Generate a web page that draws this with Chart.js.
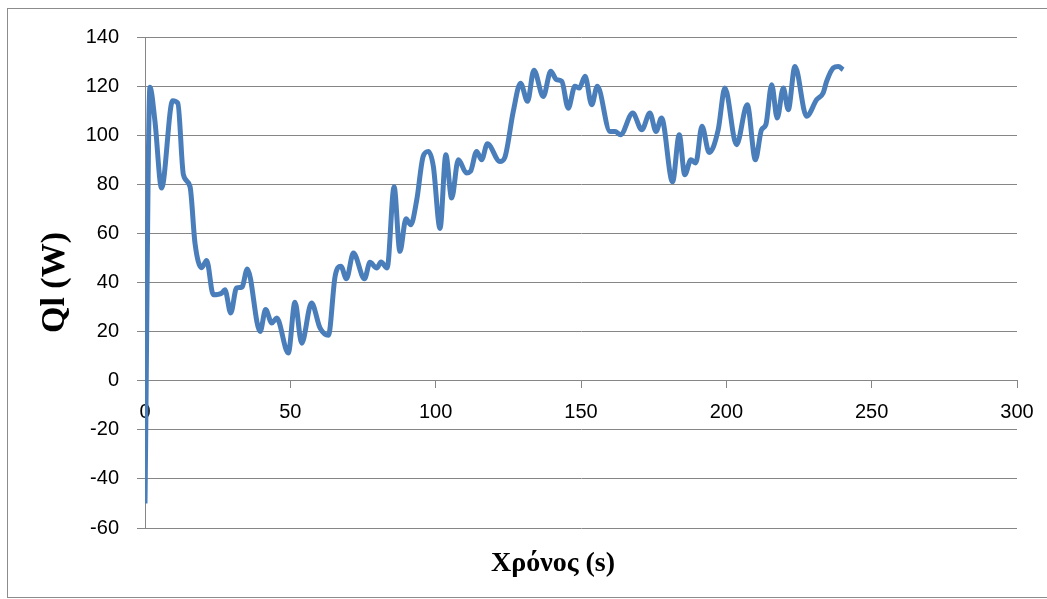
<!DOCTYPE html>
<html>
<head>
<meta charset="utf-8">
<script src="https://cdn.jsdelivr.net/npm/chart.js@4/dist/chart.umd.min.js"></script>
<style>
  html, body { margin: 0; padding: 0; background: #fff; overflow: hidden; }
  #wrap { position: relative; width: 1047px; height: 599px; overflow: hidden; }
  #frame { position: absolute; left: 7px; top: 8px; width: 1050px; height: 588px; border: 1px solid #8c8c8c; pointer-events: none; }
</style>
</head>
<body>
<div id="wrap">
  <canvas id="chart" width="1047" height="599"></canvas>
  <div id="frame"></div>
</div>
<script>
// time (s) and Ql (W)
var time = [0, 1.7, 3.4, 5.7, 9.5, 11.3, 13.2, 15.5, 17.2, 19.5, 21.2, 23.5, 26.4, 27.5, 29.5,
  31.5, 33.3, 35.2, 39.6, 41.5, 43.6, 45.3, 49.3, 51.6, 53.9, 57.3, 60.2, 63.1, 65.4, 67.4,
  69.3, 71.7, 75.5, 77.4, 79.7, 81.2, 83.3, 85.7, 87.7, 89.8, 91.4, 93.5, 95.7, 97.5, 99.2,
  101.5, 103.5, 105.5, 107.8, 110.6, 112, 114.1, 115.8, 117.8, 122.1, 123.8, 126.7, 129.2, 131.6,
  133.8, 137, 139.6, 141.6, 143.4, 145.6, 147.9, 149.4, 151.4, 153.7, 155.6, 160, 161.7, 163.6,
  167.8, 170.9, 173.7, 175.8, 177.7, 181.5, 183.8, 185.7, 187.8, 189.5, 191.6, 194.1, 197.2, 199.5,
  203.5, 207.2, 210, 212.1, 213.6, 215.6, 217.5, 219.6, 221.3, 223.6, 227.6, 231.1, 233.3, 234.5,
  236.8, 238.5, 240.2];
var ql = [-50, 119.5, 106, 78.5, 114, 113, 84, 79, 56, 46, 49, 35, 35.7, 37, 27.6,
  37.8, 38, 45.5, 20, 29, 23.5, 25.5, 11.3, 32, 15.3, 31.6, 21.5, 18.5, 42.5, 46.6,
  41.5, 52, 41.5, 48.2, 45.9, 48.3, 45.9, 79, 52.7, 66, 63.5, 73.7, 91.4, 93.4, 87.3,
  62, 92, 74.4, 90, 84.6, 85.3, 93.4, 90, 96.5, 89.3, 91, 109.7, 121.2, 113.8,
  126.5, 115.8, 126, 122.6, 121.9, 111, 119.9, 119.2, 124, 112.4, 119.9, 101.5, 101.5, 100.2,
  109, 102.2, 109, 101.5, 107, 81, 100.2, 83.9, 90, 88.7, 103.6, 93, 102.2, 119.2,
  96.1, 112.4, 90, 102.2, 104.3, 120.6, 107, 119.2, 110.4, 128, 107.7, 114.5, 117.2, 121.9,
  127.4, 128, 126.7];

var xTicks = [0, 50, 100, 150, 200, 250, 300];
var yTicks = [-60, -40, -20, 0, 20, 40, 60, 80, 100, 120, 140];

var xTitle = "Χρόνος (s)";
var yTitle = "Ql (W)";

var points = time.map(function (t, i) { return { x: t, y: ql[i] }; });

var gridColor = "#868686";

// x axis title drawn under the plot (the x axis itself sits on y = 0)
var xTitlePlugin = {
  id: "xTitle",
  afterDraw: function (chart) {
    var a = chart.chartArea;
    var ctx = chart.ctx;
    ctx.save();
    ctx.font = "bold 28px 'Liberation Serif'";
    ctx.fillStyle = "#000";
    ctx.textAlign = "center";
    ctx.textBaseline = "middle";
    ctx.fillText(xTitle, (a.left + a.right) / 2 - 28, a.bottom + 36);
    ctx.restore();
  }
};

var ctx = document.getElementById("chart").getContext("2d");
new Chart(ctx, {
  type: "scatter",
  data: {
    datasets: [{
      data: points,
      showLine: true,
      borderColor: "#4a7ebb",
      borderWidth: 5,
      pointRadius: 0,
      fill: false,
      cubicInterpolationMode: "monotone"
    }]
  },
  options: {
    responsive: false,
    animation: false,
    layout: { padding: { left: 30, right: 30, top: 37, bottom: 71 } },
    plugins: { legend: { display: false }, tooltip: { enabled: false } },
    scales: {
      x: {
        type: "linear",
        position: { y: 0 },
        min: 0,
        max: 300,
        afterBuildTicks: function (scale) {
          scale.ticks = xTicks.map(function (v) { return { value: v }; });
        },
        grid: { drawOnChartArea: false, drawTicks: true, tickLength: 7, color: gridColor },
        border: { display: true, color: gridColor },
        ticks: { padding: 13, color: "#000", maxRotation: 0, font: { family: "'Liberation Sans'", size: 20 } }
      },
      y: {
        type: "linear",
        position: "left",
        min: -60,
        max: 140,
        afterBuildTicks: function (scale) {
          scale.ticks = yTicks.map(function (v) { return { value: v }; });
        },
        afterFit: function (scale) { scale.width = 115; },
        grid: { color: gridColor, tickLength: 8 },
        border: { display: true, color: gridColor },
        ticks: { padding: 18, color: "#000", font: { family: "'Liberation Sans'", size: 20 } },
        title: {
          display: true,
          text: yTitle,
          color: "#000",
          padding: { top: 5, bottom: 0 },
          font: { family: "'Liberation Serif'", size: 34, weight: "bold" }
        }
      }
    }
  },
  plugins: [xTitlePlugin]
});
</script>
</body>
</html>
